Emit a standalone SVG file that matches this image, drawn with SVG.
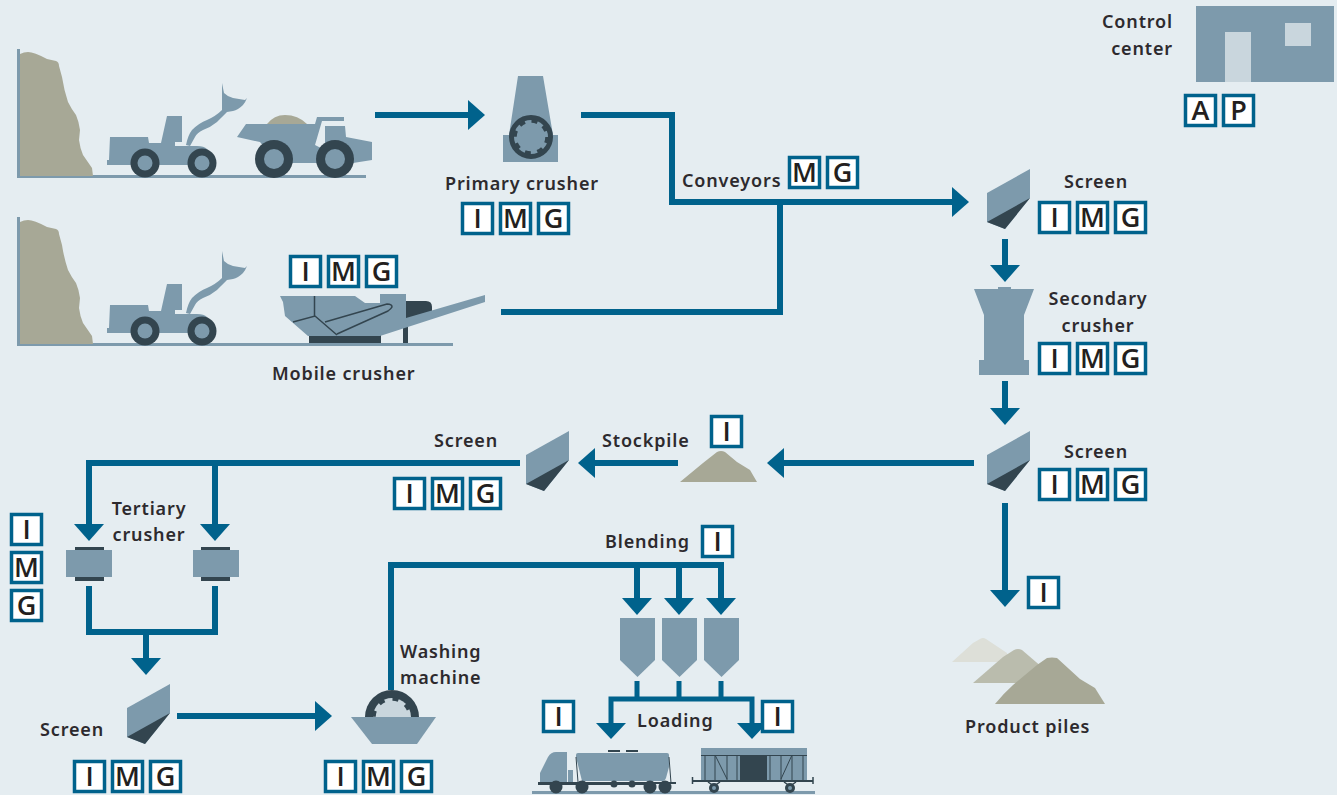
<svg xmlns="http://www.w3.org/2000/svg" xmlns:xlink="http://www.w3.org/1999/xlink" width="1337" height="795" viewBox="0 0 1337 795">
<style>
.n{fill:#7d9aac}.d{fill:#33454f}.k{fill:#a7a896}.l{fill:#c9d6dd}
.t{font-family:"Noto Sans","Open Sans",sans-serif;font-size:18px;font-weight:600;fill:#2d2a2e;letter-spacing:.85px}
.m{text-anchor:middle}.e{text-anchor:end}
.b rect{fill:#fff;stroke:#00628c;stroke-width:3.5}
.b text{font-family:"Open Sans","Liberation Sans",sans-serif;font-size:27px;font-weight:600;fill:#231f20;text-anchor:middle}
.c{fill:none;stroke:#00628c;stroke-width:6;stroke-linejoin:miter}
.c2{fill:none;stroke:#00628c;stroke-width:5}
.th{fill:none;stroke:#33454f;stroke-width:1}
.tm{fill:none;stroke:#33454f;stroke-width:1.5}
</style>
<defs>
<marker id="ah" markerUnits="userSpaceOnUse" markerWidth="17" markerHeight="30" refX="0" refY="15" orient="auto"><path d="M0 0L17 15L0 30z" fill="#00628c"/></marker>
<path id="rock" class="k" d="M20 54Q24 52 28 52Q34 52 47 59L56 61Q59 62 59 66L62 77Q64 90 68 102Q72 110 76 115Q79 122 80 130L79 140Q80 148 83 155L92 168L93 176H20Z"/>
<g id="loader">
<path class="n" d="M186 145Q188 135 192 130Q199 123 207 120Q216 116 222 110L222 83L224 93Q228 97 233 98L245 100L247 98Q245 103 243 105Q238 110 233 111L227 112Q222 117 217 122Q211 127 203 130Q197 133 195 137L190 146Z"/>
<path class="n" d="M110 137H148L149 143H161L167 116H182V142H175V146H197Q204 146 207 149L213 165H107V160H109Z"/>
<circle class="d" cx="145" cy="163" r="14.5"/><circle class="n" cx="145" cy="163" r="7.5"/>
<circle class="d" cx="202" cy="163" r="14.5"/><circle class="n" cx="202" cy="163" r="7.5"/>
</g>
<g id="screen">
<path class="n" d="M0 24L43 0V29L18 60L0 53Z"/>
<path class="d" d="M0 53L43 29L18 60Z"/>
</g>
<path id="silo" class="n" d="M0 0H35V42L17.500 59L0 42Z"/>
</defs>
<rect width="1337" height="795" fill="#e5edf1"/>

<g id="connectors">
<path class="c" d="M375 115H468" marker-end="url(#ah)"/>
<path class="c" d="M581 115H672V202H952" marker-end="url(#ah)"/>
<path class="c" d="M501 312H780V202"/>
<path class="c" d="M1005 239V265" marker-end="url(#ah)"/>
<path class="c" d="M1005 381V408" marker-end="url(#ah)"/>
<path class="c" d="M974 463H784" marker-end="url(#ah)"/>
<path class="c" d="M678 463H595" marker-end="url(#ah)"/>
<path class="c" d="M520 463H89V524" marker-end="url(#ah)"/>
<path class="c" d="M215 463V524" marker-end="url(#ah)"/>
<path class="c" d="M89 586V632H215V586"/>
<path class="c" d="M146 632V658" marker-end="url(#ah)"/>
<path class="c" d="M177 716H315" marker-end="url(#ah)"/>
<path class="c" d="M391 690V565H721V598" marker-end="url(#ah)"/>
<path class="c" d="M637 565V598" marker-end="url(#ah)"/>
<path class="c" d="M679 565V598" marker-end="url(#ah)"/>
<path class="c" d="M1005 503V590" marker-end="url(#ah)"/>
<path class="c2" d="M637 681V699M679 681V699M721 681V699"/>
<path class="c2" d="M611 723V699H752V723"/>
<path d="M596 723H626L611 739ZM737 723H767L752 739Z" fill="#00628c"/>
</g>

<g id="quarry-truck">
<path class="n" d="M17 49H20V175H366V178H17Z"/>
<use xlink:href="#rock" href="#rock"/>
<use xlink:href="#loader" href="#loader"/>
<path class="k" d="M267 124Q274 115 285 115Q298 115 307 124Z"/>
<path class="n" d="M246 124H315L317 117H344V121H322L315 145L325 150V126H345L346 137L372 142V160L353 163H277L260 142L237 137Z"/>
<circle class="d" cx="274" cy="159" r="19"/><circle class="n" cx="274" cy="159" r="10"/>
<circle class="d" cx="335" cy="159" r="19"/><circle class="n" cx="335" cy="159" r="10"/>
</g>

<g id="quarry-mobile">
<path class="n" d="M17 217H20V343H453V346H17Z"/>
<use xlink:href="#rock" href="#rock" y="168"/>
<use xlink:href="#loader" href="#loader" y="168"/>
</g>

<g id="mobile-crusher">
<rect class="d" x="403" y="325" width="5" height="18"/>
<path class="d" d="M406 301H426Q432 301 432 307V312L406 320Z"/>
<rect class="d" x="309" y="335" width="72" height="8"/>
<path class="n" d="M280 296H355L365 303H380V294H406V318L485 295V302L380 336H308L285 316L283 302Z"/>
<path class="th" style="stroke-width:1.500" d="M314.500 296V316M293 322L315 316L337 335M325 322L387 304Q392 304 392 307Q391 309 388 311L337 334"/>
<g class="b">
<rect x="290.500" y="256.500" width="30" height="30"/><text x="305.500" y="281">I</text>
<rect x="328.500" y="256.500" width="30" height="30"/><text x="343.500" y="281">M</text>
<rect x="366.500" y="256.500" width="30" height="30"/><text x="381.500" y="281">G</text>
</g>
<text class="t" x="272" y="380">Mobile crusher</text>
</g>

<g id="primary-crusher">
<path class="n" d="M518 76H543L553 135H558V162H503V135H509Z"/>
<circle cx="531" cy="137" r="19.500" fill="#7d9aac" stroke="#33454f" stroke-width="5"/>
<circle cx="531" cy="137" r="16" fill="none" stroke="#33454f" stroke-width="3.500" stroke-dasharray="6 6.570"/>
<text class="t" x="445" y="190">Primary crusher</text>
<g class="b">
<rect x="462.500" y="203.500" width="30" height="30"/><text x="477.500" y="228">I</text>
<rect x="500.500" y="203.500" width="30" height="30"/><text x="515.500" y="228">M</text>
<rect x="538.500" y="203.500" width="30" height="30"/><text x="553.500" y="228">G</text>
</g>
</g>

<g id="conveyors">
<text class="t" x="682" y="187">Conveyors</text>
<g class="b">
<rect x="789.500" y="157.500" width="30" height="30"/><text x="804.500" y="182">M</text>
<rect x="827.500" y="157.500" width="30" height="30"/><text x="842.500" y="182">G</text>
</g>
</g>

<g id="control-center">
<rect class="n" x="1196" y="6" width="138" height="76"/>
<rect class="l" x="1225" y="32" width="26" height="50"/>
<rect class="l" x="1285" y="23" width="26" height="23"/>
<text class="t e" x="1173" y="28">Control</text>
<text class="t e" x="1173" y="55">center</text>
<g class="b">
<rect x="1185.500" y="95.500" width="30" height="30"/><text x="1200.500" y="120">A</text>
<rect x="1223.500" y="95.500" width="30" height="30"/><text x="1238.500" y="120">P</text>
</g>
</g>

<g id="screen-1">
<use xlink:href="#screen" href="#screen" x="987" y="169"/>
<text class="t" x="1064" y="188">Screen</text>
<g class="b">
<rect x="1039.500" y="202.500" width="30" height="30"/><text x="1054.500" y="227">I</text>
<rect x="1077.500" y="202.500" width="30" height="30"/><text x="1092.500" y="227">M</text>
<rect x="1115.500" y="202.500" width="30" height="30"/><text x="1130.500" y="227">G</text>
</g>
</g>

<g id="secondary-crusher">
<path class="n" d="M974 289H998V287H1011V289H1034L1024 315V360H1029V375H979V360H984V315Z"/>
<text class="t m" x="1098" y="305">Secondary</text>
<text class="t m" x="1098" y="332">crusher</text>
<g class="b">
<rect x="1039.500" y="343.500" width="30" height="30"/><text x="1054.500" y="368">I</text>
<rect x="1077.500" y="343.500" width="30" height="30"/><text x="1092.500" y="368">M</text>
<rect x="1115.500" y="343.500" width="30" height="30"/><text x="1130.500" y="368">G</text>
</g>
</g>

<g id="screen-2">
<use xlink:href="#screen" href="#screen" x="987" y="431"/>
<text class="t" x="1064" y="458">Screen</text>
<g class="b">
<rect x="1039.500" y="469.500" width="30" height="30"/><text x="1054.500" y="494">I</text>
<rect x="1077.500" y="469.500" width="30" height="30"/><text x="1092.500" y="494">M</text>
<rect x="1115.500" y="469.500" width="30" height="30"/><text x="1130.500" y="494">G</text>
</g>
</g>

<g id="stockpile">
<path class="k" d="M680 482L703 463L717 452Q721 450 725 452L737 462L750 470L757 482Z"/>
<text class="t" x="602" y="447">Stockpile</text>
<g class="b">
<rect x="711.500" y="416.500" width="30" height="30"/><text x="726.500" y="441">I</text>
</g>
</g>

<g id="screen-3">
<use xlink:href="#screen" href="#screen" x="526" y="431"/>
<text class="t" x="434" y="447">Screen</text>
<g class="b">
<rect x="394.500" y="478.500" width="30" height="30"/><text x="409.500" y="503">I</text>
<rect x="432.500" y="478.500" width="30" height="30"/><text x="447.500" y="503">M</text>
<rect x="470.500" y="478.500" width="30" height="30"/><text x="485.500" y="503">G</text>
</g>
</g>

<g id="tertiary-crusher">
<rect class="d" x="75" y="547" width="29" height="34"/><rect class="n" x="66" y="550" width="46" height="27"/>
<rect class="d" x="201" y="547" width="29" height="34"/><rect class="n" x="193" y="550" width="46" height="27"/>
<text class="t m" x="149" y="515">Tertiary</text>
<text class="t m" x="149" y="541">crusher</text>
<g class="b">
<rect x="11.500" y="514.500" width="30" height="30"/><text x="26.500" y="539">I</text>
<rect x="11.500" y="552.500" width="30" height="30"/><text x="26.500" y="577">M</text>
<rect x="11.500" y="590.500" width="30" height="30"/><text x="26.500" y="615">G</text>
</g>
</g>

<g id="screen-4">
<use xlink:href="#screen" href="#screen" x="127" y="684"/>
<text class="t" x="40" y="736">Screen</text>
<g class="b">
<rect x="74.500" y="761.500" width="30" height="30"/><text x="89.500" y="786">I</text>
<rect x="112.500" y="761.500" width="30" height="30"/><text x="127.500" y="786">M</text>
<rect x="150.500" y="761.500" width="30" height="30"/><text x="165.500" y="786">G</text>
</g>
</g>

<g id="washing-machine">
<path class="d" d="M365 717A27 27 0 0 1 419 717Z"/>
<path class="l" d="M373 717A19 19 0 0 1 411 717Z"/>
<circle cx="392" cy="717" r="18" fill="none" stroke="#33454f" stroke-width="3.500" stroke-dasharray="6 8.130"/>
<path class="n" d="M351 717H436L417 744H372Z"/>
<text class="t" x="400" y="658">Washing</text>
<text class="t" x="400" y="684">machine</text>
<g class="b">
<rect x="325.500" y="761.500" width="30" height="30"/><text x="340.500" y="786">I</text>
<rect x="363.500" y="761.500" width="30" height="30"/><text x="378.500" y="786">M</text>
<rect x="401.500" y="761.500" width="30" height="30"/><text x="416.500" y="786">G</text>
</g>
</g>

<g id="blending">
<use xlink:href="#silo" href="#silo" x="620" y="618"/>
<use xlink:href="#silo" href="#silo" x="662" y="618"/>
<use xlink:href="#silo" href="#silo" x="704" y="618"/>
<text class="t" x="605" y="548">Blending</text>
<g class="b">
<rect x="702.500" y="526.500" width="30" height="30"/><text x="717.500" y="551">I</text>
</g>
</g>

<g id="loading">
<rect class="n" x="532" y="791" width="283" height="3"/>
<path class="n" d="M540 773L548 757Q551 752 556 752H567V782H540Z"/>
<rect class="n" x="568" y="770" width="5" height="12"/>
<path class="n" d="M576 755Q576 753 578 753H667Q669 753 669 755V767L666 778Q665 781 662 781H582L576 757Z"/>
<rect class="d" x="608" y="750" width="12" height="2"/><rect class="d" x="626" y="750" width="12" height="2"/>
<path class="th" d="M576 757L578 782M669 757L671 783"/>
<rect class="d" x="538" y="782" width="108" height="3"/><rect class="d" x="640" y="782" width="36" height="2"/>
<circle class="d" cx="614" cy="784" r="3.500"/><circle class="d" cx="632" cy="784" r="3.500"/>
<circle class="d" cx="556" cy="787" r="6.500"/><circle class="d" cx="582" cy="787" r="6.500"/><circle class="d" cx="650" cy="787" r="6.500"/><circle class="d" cx="665" cy="787" r="6.500"/>
<rect class="n" x="701" y="748" width="106" height="32"/>
<rect class="d" x="740" y="755" width="27" height="25"/>
<path class="th" d="M701 755.500H807M705 755V780M715 755V780M727 755V780M737 755V780M770 755V780M781 755V780M792 755V780M803 755V780M715 755L727 779M781 779L792 755"/>
<rect class="d" x="692" y="780" width="121" height="2"/>
<path class="tm" d="M692.500 777V784M813 777V784M708 782L714 786L720 782M784 782L790 786L796 782"/>
<circle class="d" cx="714" cy="788" r="5"/><circle class="n" cx="714" cy="788" r="2"/>
<circle class="d" cx="790" cy="788" r="5"/><circle class="n" cx="790" cy="788" r="2"/>
<text class="t" x="637" y="727">Loading</text>
<g class="b">
<rect x="543.500" y="701.500" width="30" height="30"/><text x="558.500" y="726">I</text>
<rect x="762.500" y="701.500" width="30" height="30"/><text x="777.500" y="726">I</text>
</g>
</g>

<g id="product-piles">
<path fill="#dddfd8" d="M952 662L973 643L980 639Q983 637 986 639L1007 653V662Z"/>
<path fill="#babcad" d="M973 683L1003 657L1014 650Q1018 648 1022 650L1043 668V683Z"/>
<path class="k" d="M995 704Q1003 694 1013 685L1037 665L1047 658Q1052 657 1057 658L1080 679L1095 688L1105 704Z"/>
<text class="t" x="965" y="733">Product piles</text>
<g class="b">
<rect x="1028.500" y="577.500" width="30" height="30"/><text x="1043.500" y="602">I</text>
</g>
</g>
</svg>
